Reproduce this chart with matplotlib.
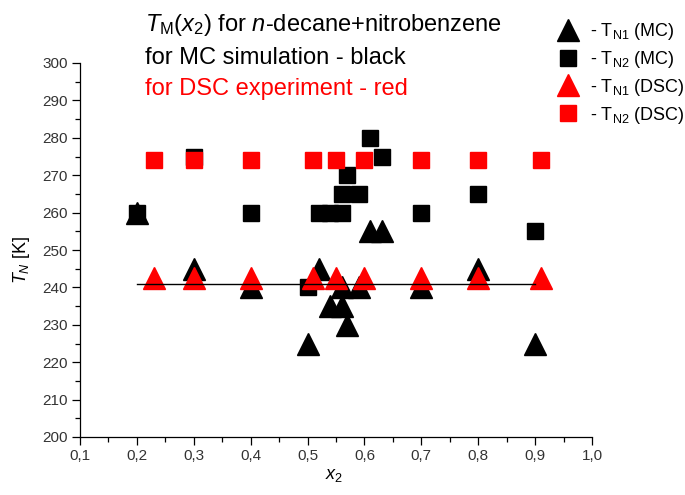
import matplotlib
matplotlib.use('Agg')
import matplotlib.pyplot as plt
from matplotlib.ticker import MultipleLocator

plt.rcParams['font.family'] = ['Liberation Sans', 'DejaVu Sans']
plt.rcParams['mathtext.fontset'] = 'custom'
plt.rcParams['mathtext.rm'] = 'Liberation Sans'
plt.rcParams['mathtext.it'] = 'Liberation Sans:italic'

# MC simulation - black
mc_x = [0.2, 0.3, 0.4, 0.5, 0.52, 0.54, 0.56, 0.56, 0.57, 0.59, 0.61, 0.63, 0.7, 0.8, 0.9]
mc_tn1 = [260, 245, 240, 225, 245, 235, 235, 240, 230, 240, 255, 255, 240, 245, 225]
mc_sq_x = [0.2, 0.3, 0.4, 0.5, 0.52, 0.54, 0.56, 0.56, 0.57, 0.59, 0.61, 0.63, 0.7, 0.8, 0.9]
mc_tn2 = [260, 275, 260, 240, 260, 260, 260, 265, 270, 265, 280, 275, 260, 265, 255]

# DSC experiment - red
dsc_x = [0.23, 0.3, 0.4, 0.51, 0.55, 0.6, 0.7, 0.8, 0.91]
dsc_tn1 = [242.5, 242.5, 242.5, 242.5, 242.5, 242.5, 242.5, 242.5, 242.5]
dsc_tn2 = [274, 274, 274, 274, 274, 274, 274, 274, 274]

# horizontal line
line_x = [0.2, 0.9]
line_y = [241, 241]

xtick_vals = [0.1, 0.2, 0.3, 0.4, 0.5, 0.6, 0.7, 0.8, 0.9, 1.0]
xtick_labels = ['0,1', '0,2', '0,3', '0,4', '0,5', '0,6', '0,7', '0,8', '0,9', '1,0']

W, H = 685, 495
fig = plt.figure(figsize=(W / 100, H / 100), dpi=100)
ax = fig.add_axes([80 / W, (H - 437) / H, (592 - 80) / W, (437 - 63) / H])

h1, = ax.plot(mc_x, mc_tn1, '^', color='black', markersize=15.5, linestyle='none', zorder=3)
h2, = ax.plot(mc_sq_x, mc_tn2, 's', color='black', markersize=11, linestyle='none', zorder=2)
h3, = ax.plot(dsc_x, dsc_tn1, '^', color='red', markeredgecolor='red', markersize=15.5, linestyle='none', zorder=4)
h4, = ax.plot(dsc_x, dsc_tn2, 's', color='red', markeredgecolor='red', markersize=11, linestyle='none', zorder=5)
ax.plot(line_x, line_y, '-', color='black', linewidth=1.0, zorder=6)

ax.set_xlim(0.1, 1.0)
ax.set_ylim(200, 300)
ax.set_xticks(xtick_vals)
ax.set_xticklabels(xtick_labels)
ax.xaxis.set_minor_locator(MultipleLocator(0.05))
ax.yaxis.set_major_locator(MultipleLocator(10))
ax.yaxis.set_minor_locator(MultipleLocator(5))

for s in ['top', 'right']:
    ax.spines[s].set_visible(False)
for s in ['left', 'bottom']:
    ax.spines[s].set_linewidth(0.9)

ax.tick_params(which='major', direction='out', length=6, width=0.9, labelsize=11, pad=3, labelcolor='#333333')
ax.tick_params(which='minor', direction='out', length=3.5, width=0.9)

fig.text(145 / W, 1 - 25 / H, r'$T_{\mathrm{M}}(x_{2})$ for $n$-decane+nitrobenzene', fontsize=17, va='center', ha='left')
fig.text(145 / W, 1 - 58 / H, 'for MC simulation - black', fontsize=17, va='center', ha='left')
fig.text(145 / W, 1 - 89 / H, 'for DSC experiment - red', fontsize=17, va='center', ha='left', color='red')

fig.text(22 / W, 1 - 260 / H, r'$T_{N}$ [K]', fontsize=13, rotation=90, va='center', ha='center')
fig.text(334 / W, 1 - 476 / H, r'$x_{2}$', fontsize=13, va='center', ha='center')

labels = [r'- T$_{\mathrm{N1}}$ (MC)', r'- T$_{\mathrm{N2}}$ (MC)',
          r'- T$_{\mathrm{N1}}$ (DSC)', r'- T$_{\mathrm{N2}}$ (DSC)']
fig.legend([h1, h2, h3, h4], labels, loc='upper left', bbox_to_anchor=(559 / W, 1 - 21 / H),
           frameon=False, fontsize=13, numpoints=1, handlelength=1.0, handletextpad=0.7,
           borderpad=0, borderaxespad=0, labelspacing=0.38)

fig.savefig('out.png', dpi=100)
